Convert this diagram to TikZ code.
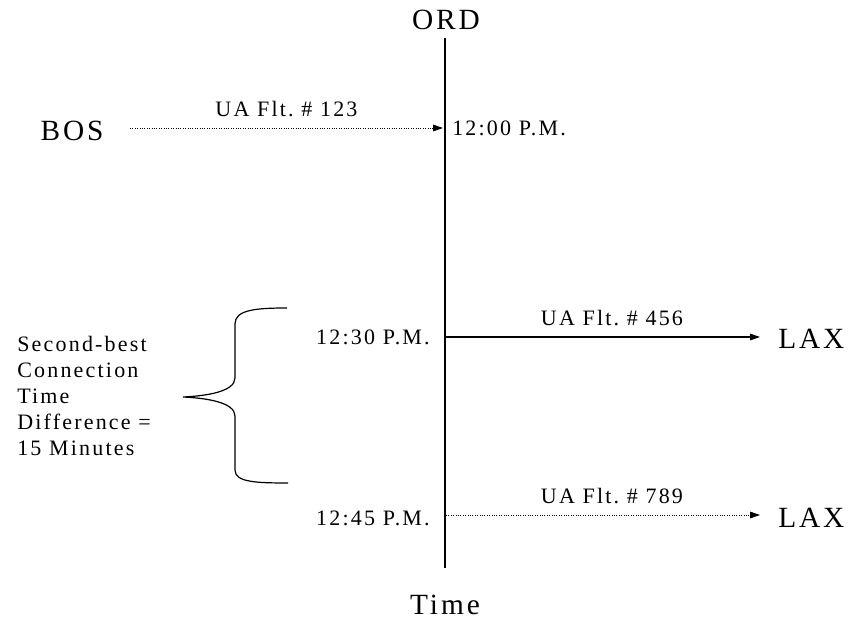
\documentclass[tikz,border=0pt]{standalone}
\usepackage{fontspec}
\setmainfont{Liberation Serif}[LetterSpace=10]
\usetikzlibrary{arrows.meta}

\begin{document}
\begin{tikzpicture}[x=0.75pt, y=-0.75pt,
  big/.style={font=\fontsize{22}{26}\selectfont, inner sep=0pt},
  small/.style={font=\fontsize{16.5}{19.5}\selectfont, inner sep=0pt},
  flt/.style={-{Triangle[length=7.5pt,width=5pt]}, line width=0.8pt},
  dotflt/.style={flt, densely dotted, line width=0.7pt}]
  \useasboundingbox (0,0) rectangle (854,623);

  % time axis at ORD
  \coordinate (top) at (445,38);
  \coordinate (bot) at (445,568);
  \draw[line width=0.9pt] (top) -- (bot);
  \node[big] (ord) at (446,20) {ORD};
  \node[big] (time) at (445,605) {Time};

  % inbound from BOS
  \node[big] (bos) at (72,131) {BOS};
  \coordinate (bosdep) at (130,128);
  \coordinate (ordarr) at (443,128);
  \draw[dotflt] (bosdep) -- (ordarr) node[small, midway, above=8pt] (f123) {UA Flt.\ \# 123};
  \node[small, anchor=west] (t1200) at (452,128) {12:00 P.M.};

  % outbound to LAX
  \node[small, anchor=east] (t1230) at (430,337) {12:30 P.M.};
  \node[small, anchor=east] (t1245) at (430,518) {12:45 P.M.};
  \node[big, anchor=west] (laxa) at (778,339) {LAX};
  \node[big, anchor=west] (laxb) at (778,518) {LAX};
  \coordinate (dep456) at (446,337);
  \coordinate (dep789) at (446,515);
  \draw[flt, shorten >=13.5pt] (dep456) -- (laxa.west |- dep456) node[small, midway, above=8pt] (f456) {UA Flt.\ \# 456};
  \draw[dotflt, shorten >=13.5pt] (dep789) -- (laxb.west |- dep789) node[small, midway, above=8pt] (f789) {UA Flt.\ \# 789};

  % brace and note
  \draw[line width=0.9pt] (287,308) .. controls (255,308) and (235,310) .. (235,324)
    -- (235,378) .. controls (235,392) and (205,396) .. (183,397)
    .. controls (205,398) and (235,402) .. (235,416)
    -- (235,470) .. controls (235,482) and (255,483) .. (288,483);
  \node[small, anchor=west, align=left] (note) at (17,396)
    {Second-best\\Connection\\Time\\Difference =\\15 Minutes};
\end{tikzpicture}
\end{document}
